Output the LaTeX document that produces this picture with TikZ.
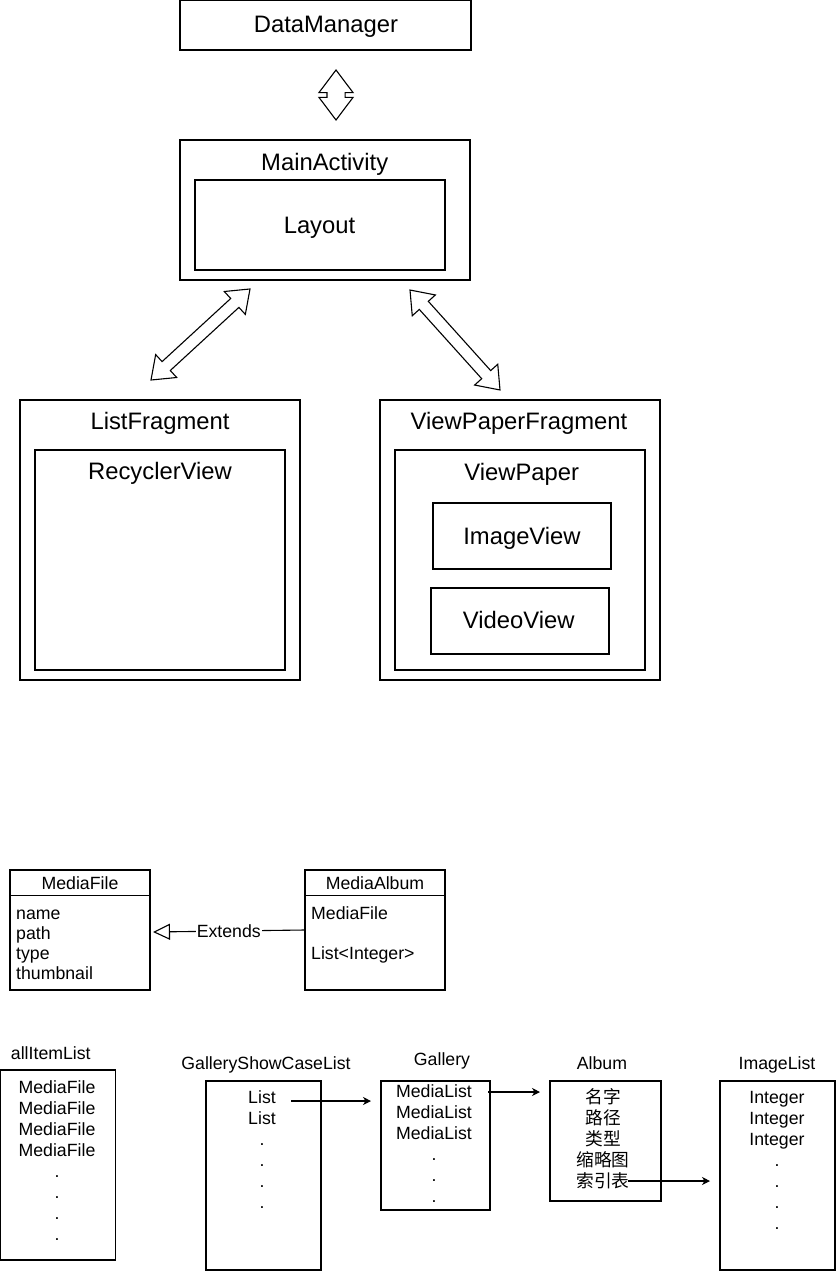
\documentclass[tikz,border=0pt]{standalone}
\usepackage{fontspec}
\setmainfont{Liberation Sans}
\newfontfamily\cjkfont{Noto Sans CJK SC}
\usetikzlibrary{arrows.meta,shapes.arrows}
\newcommand{\bigfont}{\fontsize{23.8}{28}\selectfont}
\newcommand{\smallfont}{\fontsize{17.7}{21}\selectfont}
\newcommand{\attrfont}{\fontsize{17.7}{20}\selectfont}

\begin{document}
\begin{tikzpicture}[x=1pt,y=-1pt,
    box/.style 2 args={draw, line width=1.1pt, inner sep=0pt,
      minimum width=#1pt, minimum height=#2pt},
    bigtext/.style={font=\bigfont, anchor=base, inner sep=0pt},
    smalltext/.style={font=\smallfont, inner sep=0pt},
    blockarrow/.style={double arrow, draw, line width=1.1pt, inner xsep=0pt,
      double arrow tip angle=74},
    link/.style={-{Stealth[length=8pt,width=8pt,inset=2.5pt]}, line width=1.1pt}]
  \useasboundingbox (0,0) rectangle (836,1271);

  %% DataManager / MainActivity
  \node[box={291}{50}] (dataManager) at (325.5,25) {};
  \node[bigtext] (dataManagerLabel) at (326,33) {DataManager};
  \node[blockarrow, minimum height=50pt, inner ysep=8.5pt,
    double arrow head extend=8pt, rotate=90] (dataLink) at (336,95) {};

  \node[box={290}{140}] (mainActivity) at (325,210) {};
  \node[bigtext] (mainActivityLabel) at (324.7,170) {MainActivity};
  \node[box={250}{90}] (layout) at (320,225) {};
  \node[bigtext] (layoutLabel) at (319.5,233) {Layout};

  \node[blockarrow, minimum height=134.5pt, inner ysep=5.5pt,
    double arrow head extend=9.5pt, rotate=42.6] (listLink) at (200.5,334.5) {};
  \node[blockarrow, minimum height=134.5pt, inner ysep=5.5pt,
    double arrow head extend=9.5pt, rotate=-48] (pagerLink) at (455,340) {};

  %% fragments
  \node[box={280}{280}] (listFragment) at (160,540) {};
  \node[bigtext] (listFragmentLabel) at (160,429) {ListFragment};
  \node[box={250}{220}] (recyclerView) at (160,560) {};
  \node[bigtext] (recyclerViewLabel) at (160,479) {RecyclerView};

  \node[box={280}{280}] (pagerFragment) at (520,540) {};
  \node[bigtext] (pagerFragmentLabel) at (519,429.3) {ViewPaperFragment};
  \node[box={250}{220}] (viewPaper) at (520,560) {};
  \node[bigtext] (viewPaperLabel) at (521.7,480) {ViewPaper};
  \node[box={178}{66}] (imageView) at (522,536) {};
  \node[bigtext] (imageViewLabel) at (522,544) {ImageView};
  \node[box={178}{66}] (videoView) at (520,621) {};
  \node[bigtext] (videoViewLabel) at (518.7,628.3) {VideoView};

  %% classes
  \node[box={140}{120}] (mediaFile) at (80,930) {};
  \draw[line width=1.1pt] ([yshift=-26pt]mediaFile.north west) -- ([yshift=-26pt]mediaFile.north east);
  \node[smalltext, anchor=base] (mediaFileName) at (80,889.3) {MediaFile};
  \node[smalltext, font=\attrfont, align=left, anchor=west] (mediaFileAttr) at (16,945)
    {name\\path\\type\\thumbnail};

  \node[box={140}{120}] (mediaAlbum) at (375,930) {};
  \draw[line width=1.1pt] ([yshift=-26pt]mediaAlbum.north west) -- ([yshift=-26pt]mediaAlbum.north east);
  \node[smalltext, anchor=base] (mediaAlbumName) at (375,889.3) {MediaAlbum};
  \node[smalltext, anchor=base west] (albumFile) at (311,919.3) {MediaFile};
  \node[smalltext, anchor=base west] (albumIndex) at (311,959.3) {List<Integer>};

  \coordinate (extTip) at (153,932);
  \draw[line width=1.1pt, -{Triangle[open,length=17pt,width=16pt]}] (mediaAlbum.west) -- (extTip)
    node[smalltext, midway, fill=white, inner sep=1pt] (extendsLabel) {Extends};

  %% lists
  \node[box={115}{190}] (allItems) at (58.2,1165) {};
  \node[smalltext, anchor=base] (allItemsLabel) at (50.8,1059.3) {allItemList};
  \node[smalltext, align=center] (allItemsText) at (57,1160.4)
    {MediaFile\\MediaFile\\MediaFile\\MediaFile\\.\\.\\.\\.};

  \node[box={115}{189}] (showCase) at (263.5,1175.5) {};
  \node[smalltext, anchor=base] (showCaseLabel) at (266,1069) {GalleryShowCaseList};
  \node[smalltext, align=center] (showCaseText) at (262,1149.5)
    {List\\List\\.\\.\\.\\.};

  \node[box={109}{129}] (gallery) at (435.5,1145.5) {};
  \node[smalltext, anchor=base] (galleryLabel) at (442,1065.3) {Gallery};
  \node[smalltext, align=center] (galleryText) at (434,1144)
    {MediaList\\MediaList\\MediaList\\.\\.\\.};

  \node[box={111}{120}] (album) at (605.5,1141) {};
  \node[smalltext, anchor=base] (albumLabel) at (602,1069) {Album};
  \node[smalltext, align=center, font=\smallfont\cjkfont] (albumText) at (603,1139)
    {名字\\路径\\类型\\缩略图\\索引表};

  \node[box={115}{189}] (imageList) at (777.5,1175.5) {};
  \node[smalltext, anchor=base] (imageListLabel) at (777,1069) {ImageList};
  \node[smalltext, align=center] (imageListText) at (777,1160)
    {Integer\\Integer\\Integer\\.\\.\\.\\.};

  %% links between lists
  \coordinate (listOut) at (291,1101);
  \coordinate (galleryIn) at (371,1101);
  \draw[link] (listOut) -- (galleryIn);
  \coordinate (galleryOut) at (488,1092);
  \coordinate (albumIn) at (540,1092);
  \draw[link] (galleryOut) -- (albumIn);
  \coordinate (albumOut) at (628,1181);
  \coordinate (imageIn) at (710,1181);
  \draw[link] (albumOut) -- (imageIn);

\end{tikzpicture}
\end{document}
